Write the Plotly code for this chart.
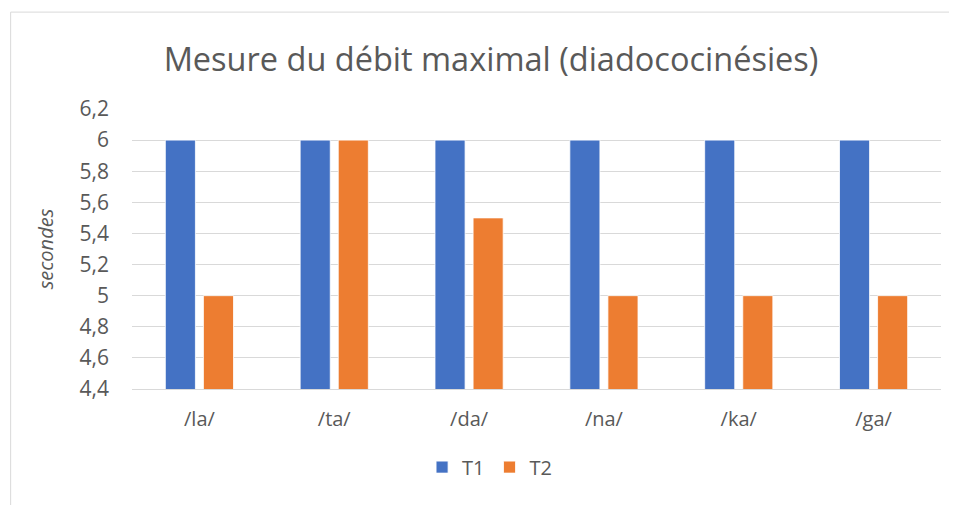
import plotly.graph_objects as go

syllabes = ["/la/", "/ta/", "/da/", "/na/", "/ka/", "/ga/"]
t1 = [6, 6, 6, 6, 6, 6]
t2 = [5, 6, 5.5, 5, 5, 5]

FONT = "Open Sans, Noto Sans, sans-serif"
GREY = "#595959"

# the page adds 8px of body margin, so the figure is 8px smaller than the window
fig = go.Figure()
fig.add_bar(x=syllabes, y=t1, name="T1", marker=dict(color="#4472C4", line=dict(color="white", width=0.8)))
fig.add_bar(x=syllabes, y=t2, name="T2", marker=dict(color="#ED7D31", line=dict(color="white", width=0.8)))

fig.update_layout(
    width=949,
    height=497,
    margin=dict(l=124, r=16, t=101, b=116),
    paper_bgcolor="white",
    plot_bgcolor="white",
    separators=", ",
    barmode="group",
    bargap=0.435,
    bargroupgap=0.21,
    font=dict(family=FONT, color=GREY),
    title=dict(
        text="Mesure du débit maximal (diadococinésies)",
        x=0.509,
        xanchor="center",
        y=0.897,
        yanchor="middle",
        font=dict(size=32.5, color=GREY),
    ),
    legend=dict(
        orientation="h",
        x=0.442,
        xanchor="center",
        y=-0.279,
        yanchor="middle",
        font=dict(size=20, color=GREY),
        itemwidth=30,
    ),
    shapes=[
        dict(
            type="rect",
            xref="paper",
            yref="paper",
            x0=-0.15,
            x1=1.2,
            y0=-0.6,
            y1=1.346,
            line=dict(color="#D9D9D9", width=1),
            layer="below",
        )
    ],
)

fig.update_yaxes(
    range=[4.4, 6.2],
    dtick=0.2,
    showgrid=True,
    gridcolor="#D9D9D9",
    gridwidth=1,
    zeroline=False,
    ticks="",
    ticklabelstandoff=22,
    tickfont=dict(size=21, color=GREY),
    title=dict(text="<i>secondes</i>", font=dict(size=20, color=GREY), standoff=20),
)
fig.update_xaxes(
    showline=True,
    linecolor="#D9D9D9",
    linewidth=1,
    ticks="",
    ticklabelstandoff=12,
    tickfont=dict(size=20, color=GREY),
)

fig.write_html("out.html")
